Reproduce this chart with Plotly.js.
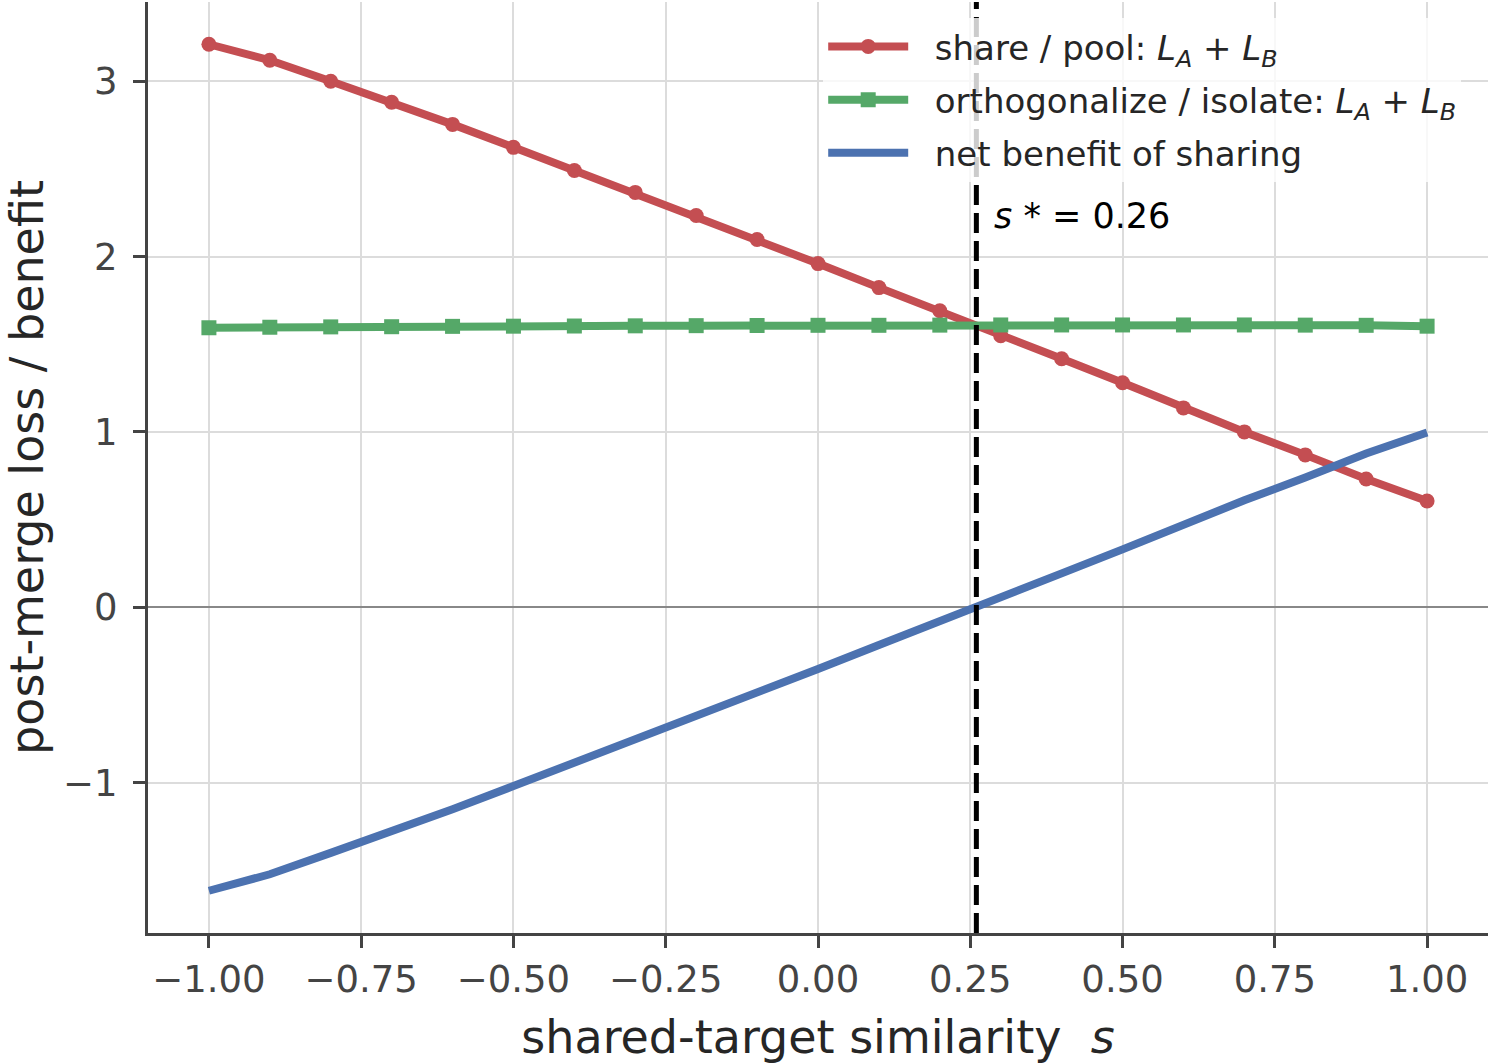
<!DOCTYPE html>
<html>
<head>
<meta charset="utf-8">
<script src="https://cdn.plot.ly/plotly-3.0.1.min.js"></script>
<style>html,body{margin:0;padding:0;background:#fff;}#chart{width:1490px;height:1064px;}</style>
</head>
<body>
<div id="chart"></div>
<script>
const similarity = [-1.0,-0.9,-0.8,-0.7,-0.6,-0.5,-0.4,-0.3,-0.2,-0.1,0.0,0.1,0.2,0.3,0.4,0.5,0.6,0.7,0.8,0.9,1.0];
const shareLoss = [3.211,3.120,3.000,2.880,2.754,2.623,2.491,2.366,2.234,2.097,1.960,1.823,1.691,1.549,1.417,1.280,1.137,1.000,0.869,0.731,0.606];
const orthoLoss = [1.594,1.597,1.599,1.600,1.602,1.603,1.604,1.605,1.606,1.607,1.608,1.608,1.609,1.610,1.610,1.610,1.610,1.610,1.609,1.608,1.603];
const netBenefit = [-1.617,-1.523,-1.401,-1.280,-1.152,-1.020,-0.887,-0.761,-0.628,-0.490,-0.352,-0.215,-0.082,0.061,0.193,0.330,0.473,0.610,0.740,0.877,0.997];
const sStar = 0.26;
const xTicks = [-1.0,-0.75,-0.5,-0.25,0.0,0.25,0.5,0.75,1.0];
const yTicks = [-1,0,1,2,3];

const FONT = 'DejaVu Sans, sans-serif';
const PAD = '\u00a0\u00a0';
const traces = [
  {x: similarity, y: shareLoss, mode: 'lines+markers', legendgroup: 'a', name: PAD + 'share / pool: <i>L<sub>A</sub></i> + <i>L<sub>B</sub></i>',
   line: {color: '#C44E52', width: 8}, marker: {symbol: 'circle', size: 15, color: '#C44E52'}},
  {x: similarity, y: orthoLoss, mode: 'lines+markers', legendgroup: 'b', name: PAD + 'orthogonalize / isolate: <i>L<sub>A</sub></i> + <i>L<sub>B</sub></i>',
   line: {color: '#55A868', width: 8}, marker: {symbol: 'square', size: 15, color: '#55A868'}},
  {x: similarity, y: netBenefit, mode: 'lines', legendgroup: 'c', name: PAD + 'net benefit of sharing',
   line: {color: '#4C72B0', width: 8}}
];

const layout = {
  width: 1490, height: 1064,
  margin: {l: 148, r: 2, t: 2, b: 131},
  paper_bgcolor: '#fff', plot_bgcolor: '#fff',
  font: {family: FONT, color: '#262626'},
  showlegend: true,
  legend: {x: 0.98, xanchor: 'right', y: 0.983, yanchor: 'top', bgcolor: 'rgba(255,255,255,0.8)',
           itemwidth: 80, tracegroupgap: 6,
           font: {size: 34, family: FONT, color: '#262626'}, borderwidth: 0},
  xaxis: {range: [-1.1, 1.1], tickvals: xTicks, tickformat: '.2f', showgrid: true, gridcolor: '#dcdcdc', gridwidth: 2,
          zeroline: false, showline: true, linecolor: '#444', linewidth: 3, ticks: 'outside', ticklen: 12, tickwidth: 3, tickcolor: '#444',
          tickfont: {size: 37, family: FONT, color: '#444'},
          title: {text: 'shared-target similarity  <i>s</i>', font: {size: 46, family: FONT, color: '#262626'}, standoff: 22}},
  yaxis: {range: [-1.858, 3.452], tickvals: yTicks, showgrid: true, gridcolor: '#dcdcdc', gridwidth: 2,
          zeroline: true, zerolinecolor: '#888', zerolinewidth: 2.5,
          showline: true, linecolor: '#444', linewidth: 3, ticks: 'outside', ticklen: 12, tickwidth: 3, tickcolor: '#444',
          ticklabelstandoff: 8,
          tickfont: {size: 37, family: FONT, color: '#444'},
          title: {text: 'post-merge loss / benefit', font: {size: 46, family: FONT, color: '#262626'}, standoff: 6}},
  shapes: [
    {type: 'line', xref: 'x', yref: 'paper', x0: sStar, x1: sStar, y0: 0, y1: 1, layer: 'above',
     line: {color: '#000', width: 5, dash: '20px,8px'}}
  ],
  annotations: [
    {xref: 'x', yref: 'y', x: sStar + 0.025, y: 2.23, xanchor: 'left', yanchor: 'middle', showarrow: false,
     text: '<i>s</i> * = 0.26', font: {size: 35, family: FONT, color: '#000'}}
  ]
};

Plotly.newPlot('chart', traces, layout, {displayModeBar: false, staticPlot: true});
</script>
</body>
</html>
